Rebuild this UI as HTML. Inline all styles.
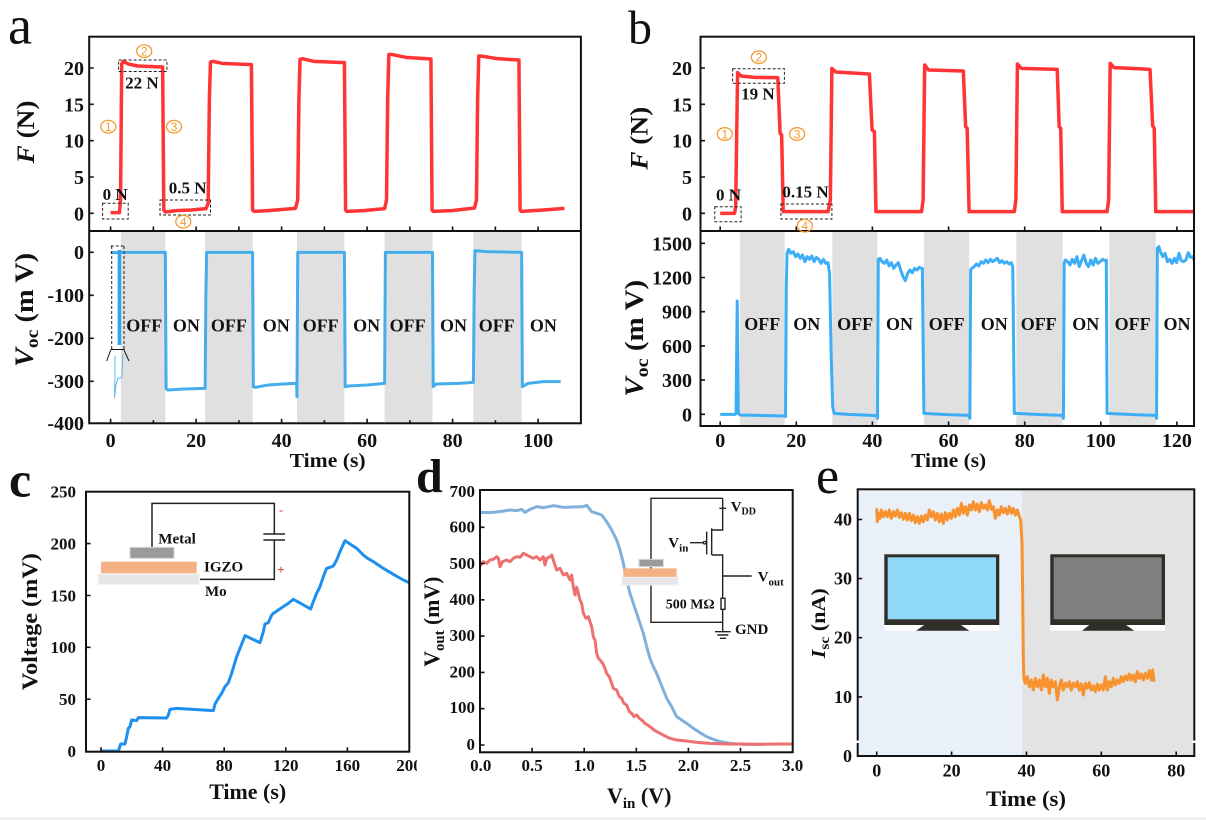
<!DOCTYPE html>
<html><head><meta charset="utf-8">
<style>
html,body{margin:0;padding:0;background:#fff;}
svg{display:block;}
text{font-family:"Liberation Serif",serif;font-weight:bold;fill:#111;}
.lt{font-weight:normal;}
.dl{fill:none;stroke:#222;stroke-width:1;stroke-dasharray:3 2;}
.ax{fill:none;stroke:#111;stroke-width:2;}
.tk{fill:none;stroke:#111;stroke-width:1.6;}
.cn{fill:none;stroke:#F29A2E;stroke-width:1.3;}
.cnt{font-weight:normal;fill:#F29A2E;font-size:12px;font-family:"Liberation Sans",sans-serif;}
</style></head><body>
<svg width="1206" height="820" viewBox="0 0 1206 820" xmlns="http://www.w3.org/2000/svg">
<rect x="0" y="0" width="1206" height="820" fill="#fff"/>

<!-- ================= PANEL A ================= -->
<text class="lt" x="8" y="43.5" font-size="54">a</text>
<g fill="#E0E0E0">
<rect x="120.9" y="231" width="44.4" height="192.3"/>
<rect x="205.1" y="231" width="47.5" height="192.3"/>
<rect x="297" y="231" width="47.4" height="192.3"/>
<rect x="384.6" y="231" width="47.9" height="192.3"/>
<rect x="473.4" y="231" width="48.2" height="192.3"/>
</g>
<g transform="matrix(0.3827,0,0,0.33333,0,0)">
<path vector-effect="non-scaling-stroke" fill="none" stroke="#FF3535" stroke-width="3.5" stroke-linejoin="round"
d="M289,638 L312,638 L315,600 L318,192 L322,184 L335,192 L360,198 L425,201 L428,630 L432,636 L460,632 L500,630 L538,626 L544,610 L547,300 L550,186 L556,184 L580,190 L657,194 L660,630 L664,634 L700,632 L772,625 L778,600 L781,300 L784,178 L790,176 L820,184 L900,188 L903,630 L906,634 L950,632 L1005,626 L1010,600 L1013,300 L1016,164 L1022,163 L1060,172 L1126,177 L1129,630 L1132,634 L1180,632 L1240,624 L1245,600 L1248,300 L1251,168 L1256,168 L1300,176 L1356,180 L1359,630 L1362,634 L1420,630 L1475,625"/>
</g>
<g transform="matrix(0.3827,0,0,0.33333,0,220)">
<path vector-effect="non-scaling-stroke" fill="none" stroke="#45AEEA" stroke-width="3" stroke-linejoin="round"
d="M289,98 L312,98 M316,97 L432,97 L434,505 L438,510 L480,507 L536,505 L538,220 L540,97 L660,97 L662,500 L668,502 L700,495 L740,492 L775,490 L776,530 L778,97 L900,97 L902,500 L910,498 L960,495 L1005,490 L1007,97 L1130,97 L1132,500 L1140,492 L1200,490 L1237,487 L1239,215 L1241,92 L1270,95 L1363,97 L1365,500 L1380,490 L1420,485 L1465,485"/>
<path vector-effect="non-scaling-stroke" fill="none" stroke="#2FA3EE" stroke-width="3.5" d="M312,90 L312,375"/>
</g>
<path class="dl" d="M110.7,246 H124 M111.7,246 V349 M124,246 V349"/>
<path fill="none" stroke="#111" stroke-width="1" d="M110.7,349.5 H124.5 M110.7,350 L106.7,361 M124,350 L129,361"/>
<path fill="none" stroke="#5BB8EE" stroke-width="1" d="M115,356 L115,372 L114.5,398 L116,385 L118,378 L121,378 L122,376 L123,354"/>
<rect class="ax" x="89.2" y="36.7" width="491.7" height="386.6"/>
<line class="ax" x1="89.2" y1="231" x2="580.9" y2="231"/>
<path class="tk" d="M89.2,213.3h4.5 M89.2,177h4.5 M89.2,140.7h4.5 M89.2,104.3h4.5 M89.2,68h4.5
M110.6,231v-4.5 M153.4,231v-4.5 M196.1,231v-4.5 M238.9,231v-4.5 M281.6,231v-4.5 M324.4,231v-4.5 M367.1,231v-4.5 M409.9,231v-4.5 M452.6,231v-4.5 M495.4,231v-4.5 M538.1,231v-4.5
M89.2,252.3h4.5 M89.2,295.3h4.5 M89.2,338.3h4.5 M89.2,381.3h4.5
M110.6,423.3v-4.5 M153.4,423.3v-3 M196.1,423.3v-4.5 M238.9,423.3v-3 M281.6,423.3v-4.5 M324.4,423.3v-3 M367.1,423.3v-4.5 M409.9,423.3v-3 M452.6,423.3v-4.5 M495.4,423.3v-3 M538.1,423.3v-4.5"/>
<g font-size="20" text-anchor="end">
<text x="84" y="75">20</text><text x="84" y="111.3">15</text><text x="84" y="147.7">10</text><text x="84" y="184">5</text><text x="84" y="220.3">0</text>
<text x="84" y="259">0</text><text x="84" y="302">-100</text><text x="84" y="345">-200</text><text x="84" y="388">-300</text><text x="84" y="430">-400</text>
</g>
<g font-size="20" text-anchor="middle">
<text x="110.6" y="447">0</text><text x="196.1" y="447">20</text><text x="281.6" y="447">40</text><text x="367.1" y="447">60</text><text x="452.6" y="447">80</text><text x="538.1" y="447">100</text>
<text x="327.6" y="467" textLength="76" lengthAdjust="spacingAndGlyphs">Time (s)</text>
</g>
<text transform="translate(34,132) rotate(-90)" font-size="25" text-anchor="middle" textLength="63" lengthAdjust="spacingAndGlyphs"><tspan font-style="italic">F</tspan> (N)</text>
<text transform="translate(33,310) rotate(-90)" font-size="26" text-anchor="middle" textLength="114" lengthAdjust="spacingAndGlyphs"><tspan font-style="italic">V</tspan><tspan font-size="18" dy="5">oc</tspan><tspan dy="-5"> (m V)</tspan></text>
<g font-size="18" text-anchor="middle">
<text x="144.3" y="331.7">OFF</text><text x="186.4" y="331.7">ON</text>
<text x="228.9" y="331.7">OFF</text><text x="276.3" y="331.7">ON</text>
<text x="320.7" y="331.7">OFF</text><text x="366.6" y="331.7">ON</text>
<text x="407.6" y="331.7">OFF</text><text x="453.5" y="331.7">ON</text>
<text x="496.7" y="331.7">OFF</text><text x="543.4" y="331.7">ON</text>
</g>
<rect class="dl" x="118.6" y="60" width="48.3" height="11.5"/>
<rect class="dl" x="102.6" y="203.3" width="25.6" height="15.7"/>
<rect class="dl" x="160" y="200" width="50.5" height="15"/>
<g font-size="17">
<text x="125.1" y="88.5">22 N</text>
<text x="102.6" y="200">0 N</text>
<text x="168.8" y="193.3">0.5 N</text>
</g>
<g text-anchor="middle">
<ellipse class="cn" cx="108.3" cy="126.7" rx="7.5" ry="6.3"/><text class="cnt" x="108.3" y="131">1</text>
<ellipse class="cn" cx="144.2" cy="51.2" rx="7.5" ry="6.3"/><text class="cnt" x="144.2" y="55.5">2</text>
<ellipse class="cn" cx="174" cy="126.7" rx="7.5" ry="6.3"/><text class="cnt" x="174" y="131">3</text>
<ellipse class="cn" cx="183.3" cy="221.7" rx="7.5" ry="6.3"/><text class="cnt" x="183.3" y="226">4</text>
</g>

<!-- ================= PANEL B ================= -->
<text class="lt" x="628" y="43.3" font-size="48">b</text>
<g fill="#E0E0E0">
<rect x="739.9" y="231" width="44.8" height="195"/>
<rect x="832.3" y="231" width="45.2" height="195"/>
<rect x="923.9" y="231" width="45.2" height="195"/>
<rect x="1016.3" y="231" width="46.3" height="195"/>
<rect x="1109.4" y="231" width="46.4" height="195"/>
</g>
<g transform="matrix(0.3865,0,0,0.33333,600,0)">
<path vector-effect="non-scaling-stroke" fill="none" stroke="#FF3535" stroke-width="3.5" stroke-linejoin="round"
d="M311,640 L348,640 L351,620 L356,218 L365,228 L400,232 L460,233 L466,400 L470,405 L474,635 L590,635 L596,600 L600,205 L610,216 L697,222 L704,390 L710,395 L714,635 L832,635 L836,600 L840,195 L850,210 L940,213 L946,380 L950,385 L955,635 L1072,635 L1076,600 L1080,192 L1090,205 L1183,208 L1188,380 L1192,385 L1196,635 L1312,635 L1316,600 L1320,190 L1330,203 L1423,208 L1430,378 L1434,385 L1438,635 L1537,635"/>
</g>
<g transform="matrix(0.3865,0,0,0.33333,600,220)">
<path vector-effect="non-scaling-stroke" fill="none" stroke="#3DAEF5" stroke-width="3" stroke-linejoin="round"
d="M311,583 L350,583 L352,580 L355,243 L358,580 L362,585 L478,588 L480,590 L482,200 L484,100 L488,88 L494,100 L500,95 L506,110 L512,102 L518,115 L524,105 L530,125 L536,110 L542,118 L548,108 L554,125 L560,112 L566,118 L572,130 L578,118 L584,130 L590,128 L594,160 L598,400 L602,560 L606,580 L640,583 L680,585 L716,587 L718,595 L720,118 L724,115 L730,125 L736,130 L742,120 L748,138 L754,128 L760,145 L766,135 L772,128 L778,150 L784,170 L790,182 L796,160 L802,150 L808,158 L814,145 L820,150 L826,142 L832,145 L834,145 L838,580 L900,584 L955,586 L957,595 L959,150 L962,145 L968,140 L974,132 L980,138 L986,125 L992,130 L998,120 L1004,128 L1010,118 L1016,125 L1022,120 L1028,115 L1034,128 L1040,122 L1046,130 L1052,125 L1058,132 L1064,128 L1068,140 L1072,580 L1140,584 L1197,586 L1199,595 L1201,130 L1204,120 L1210,125 L1216,135 L1222,118 L1228,130 L1234,110 L1240,140 L1246,122 L1252,105 L1258,130 L1264,140 L1270,120 L1276,135 L1282,115 L1288,130 L1294,125 L1300,118 L1306,122 L1310,120 L1312,580 L1380,584 L1438,586 L1440,595 L1442,85 L1446,80 L1450,95 L1456,110 L1462,100 L1468,125 L1474,118 L1480,130 L1486,115 L1492,128 L1498,100 L1504,122 L1510,125 L1516,120 L1522,98 L1528,112 L1534,110 L1537,120"/>
</g>
<rect class="ax" x="700.5" y="36.7" width="493.5" height="389.3"/>
<line class="ax" x1="700.5" y1="231" x2="1194" y2="231"/>
<path class="tk" d="M700.5,213.3h4.5 M700.5,177h4.5 M700.5,140.7h4.5 M700.5,104.3h4.5 M700.5,68h4.5
M720.2,231v-4.5 M796.3,231v-4.5 M872.4,231v-4.5 M948.6,231v-4.5 M1024.7,231v-4.5 M1100.8,231v-4.5 M1176.9,231v-4.5
M700.5,414.3h4.5 M700.5,380.1h4.5 M700.5,345.9h4.5 M700.5,311.7h4.5 M700.5,277.5h4.5 M700.5,243.3h4.5
M720.2,426v-4.5 M796.3,426v-4.5 M872.4,426v-4.5 M948.6,426v-4.5 M1024.7,426v-4.5 M1100.8,426v-4.5 M1176.9,426v-4.5"/>
<g font-size="20" text-anchor="end">
<text x="692" y="75">20</text><text x="692" y="111.3">15</text><text x="692" y="147.7">10</text><text x="692" y="184">5</text><text x="692" y="220.3">0</text>
<text x="692" y="250.3">1500</text><text x="692" y="284.5">1200</text><text x="692" y="318.7">900</text><text x="692" y="352.9">600</text><text x="692" y="387.1">300</text><text x="692" y="421.3">0</text>
</g>
<g font-size="20" text-anchor="middle">
<text x="720.2" y="447">0</text><text x="796.3" y="447">20</text><text x="872.4" y="447">40</text><text x="948.6" y="447">60</text><text x="1024.7" y="447">80</text><text x="1100.8" y="447">100</text><text x="1176.9" y="447">120</text>
<text x="948.7" y="467" textLength="75" lengthAdjust="spacingAndGlyphs">Time (s)</text>
</g>
<text transform="translate(647.5,138.3) rotate(-90)" font-size="25" text-anchor="middle" textLength="63" lengthAdjust="spacingAndGlyphs"><tspan font-style="italic">F</tspan> (N)</text>
<text transform="translate(643,338.3) rotate(-90)" font-size="26" text-anchor="middle" textLength="117" lengthAdjust="spacingAndGlyphs"><tspan font-style="italic">V</tspan><tspan font-size="18" dy="5">oc</tspan><tspan dy="-5"> (m V)</tspan></text>
<g font-size="18" text-anchor="middle">
<text x="762.3" y="330">OFF</text><text x="806.8" y="330">ON</text>
<text x="855.1" y="330">OFF</text><text x="899.5" y="330">ON</text>
<text x="946.7" y="330">OFF</text><text x="994.2" y="330">ON</text>
<text x="1038.7" y="330">OFF</text><text x="1085.8" y="330">ON</text>
<text x="1132.6" y="330">OFF</text><text x="1177" y="330">ON</text>
</g>
<rect class="dl" x="732.6" y="68.7" width="51.8" height="14.6"/>
<rect class="dl" x="714.8" y="206.7" width="26.3" height="15"/>
<rect class="dl" x="780.9" y="204" width="51" height="15"/>
<g font-size="17">
<text x="741.1" y="99.3">19 N</text>
<text x="716" y="200.7">0 N</text>
<text x="782.4" y="197.7">0.15 N</text>
</g>
<g text-anchor="middle">
<ellipse class="cn" cx="724.8" cy="134" rx="7.5" ry="6.3"/><text class="cnt" x="724.8" y="138.3">1</text>
<ellipse class="cn" cx="758.9" cy="57.3" rx="7.5" ry="6.3"/><text class="cnt" x="758.9" y="61.6">2</text>
<ellipse class="cn" cx="797.1" cy="134" rx="7.5" ry="6.3"/><text class="cnt" x="797.1" y="138.3">3</text>
<ellipse class="cn" cx="804.8" cy="225.7" rx="7.5" ry="6.3"/><text class="cnt" x="804.8" y="230">4</text>
</g>

<!-- ================= PANEL C ================= -->
<defs><clipPath id="cclip"><rect x="0" y="455" width="417" height="365"/></clipPath></defs>
<g clip-path="url(#cclip)">
<text x="9" y="496.7" font-size="50">c</text>
<g transform="matrix(0.33333,0,0,0.33333,0,460)">
<path vector-effect="non-scaling-stroke" fill="none" stroke="#222" stroke-width="1.5" d="M456,262 L456,130 L823,130 L823,222 M790,222 L855,222 M790,240 L855,240 M823,240 L823,358 L600,358"/>
<rect x="390" y="262" width="132" height="33" fill="#9B9B9B" stroke="#D8D8D8" stroke-width="3"/>
<rect x="303" y="305" width="287" height="35" fill="#F4B183"/>
<rect x="295" y="343" width="303" height="30" fill="#E6E6E6" stroke="#F2F2F2" stroke-width="3"/>
<path vector-effect="non-scaling-stroke" fill="none" stroke="#1E8FEE" stroke-width="3" stroke-linejoin="round"
d="M303,873 L355,873 L362,852 L375,852 L380,830 L385,805 L390,800 L395,780 L410,782 L415,773 L500,774 L505,765 L510,748 L530,745 L640,752 L645,732 L655,715 L665,700 L675,680 L685,668 L695,640 L710,590 L722,560 L735,527 L780,548 L790,515 L795,492 L805,488 L815,465 L820,460 L835,450 L850,440 L865,430 L880,418 L932,447 L940,425 L950,400 L960,380 L970,350 L980,325 L990,322 L1000,318 L1010,300 L1020,275 L1035,242 L1050,252 L1070,265 L1090,285 L1100,293 L1120,305 L1150,325 L1180,343 L1210,360 L1228,368"/>
</g>
<g font-size="15">
<text x="158.3" y="543.3">Metal</text>
<text x="204" y="571.7">IGZO</text>
<text x="205" y="596">Mo</text>
</g>
<text x="281" y="514" font-size="12" style="fill:#E03030" text-anchor="middle">-</text>
<text x="281" y="574" font-size="13" style="fill:#E03030" text-anchor="middle">+</text>
<rect class="ax" x="86" y="491.7" width="323.3" height="260"/>
<path class="tk" d="M86,699.2h4.5 M86,647.3h4.5 M86,595.5h4.5 M86,543.6h4.5
M101,751.7v-4.5 M162.6,751.7v-4.5 M224.2,751.7v-4.5 M285.8,751.7v-4.5 M347.4,751.7v-4.5"/>
<g font-size="17" text-anchor="end">
<text x="76" y="497.5">250</text><text x="76" y="549.5">200</text><text x="76" y="601.3">150</text><text x="76" y="653.2">100</text><text x="76" y="705">50</text><text x="76" y="756.8">0</text>
</g>
<g font-size="17" text-anchor="middle">
<text x="101" y="771">0</text><text x="162.6" y="771">40</text><text x="224.2" y="771">80</text><text x="285.8" y="771">120</text><text x="347.4" y="771">160</text><text x="409" y="771">200</text>
</g>
<text x="247.7" y="799" font-size="22" text-anchor="middle" textLength="77" lengthAdjust="spacingAndGlyphs">Time (s)</text>
<text transform="translate(37,621.7) rotate(-90)" font-size="22" text-anchor="middle" textLength="137" lengthAdjust="spacingAndGlyphs">Voltage (mV)</text>
</g>

<!-- ================= PANEL D ================= -->
<text x="416" y="492" font-size="48">d</text>
<g transform="matrix(0.33333,0,0,0.33333,410,460)">
<path vector-effect="non-scaling-stroke" fill="none" stroke="#80B0DC" stroke-width="3" stroke-linejoin="round"
d="M210,157 L240,158 L270,155 L300,150 L320,152 L335,148 L345,157 L360,148 L380,140 L400,143 L430,137 L460,142 L490,141 L520,140 L530,136 L545,155 L560,160 L575,165 L590,185 L605,210 L620,240 L630,270 L640,310 L650,360 L660,400 L670,430 L680,460 L690,490 L700,520 L710,560 L720,595 L730,620 L740,640 L750,665 L760,690 L770,715 L785,740 L800,770 L815,780 L830,790 L850,805 L870,818 L890,830 L910,838 L930,845 L960,850 L1000,853 L1060,853"/>
<path vector-effect="non-scaling-stroke" fill="none" stroke="#EE7070" stroke-width="3" stroke-linejoin="round"
d="M210,318 L220,305 L230,310 L240,300 L250,298 L260,290 L265,295 L270,320 L278,305 L290,300 L300,305 L310,295 L320,290 L330,292 L340,280 L350,285 L360,290 L370,295 L380,290 L390,300 L400,290 L405,315 L410,295 L420,290 L425,285 L430,300 L440,330 L450,325 L460,345 L470,340 L480,360 L485,345 L490,380 L495,405 L500,382 L505,400 L510,420 L515,430 L520,460 L528,475 L535,470 L545,500 L550,530 L555,540 L560,580 L565,595 L570,600 L578,610 L585,625 L590,640 L598,650 L605,670 L610,685 L620,690 L628,710 L635,715 L642,730 L650,735 L658,755 L665,760 L672,770 L680,765 L688,775 L695,780 L705,790 L720,800 L735,812 L750,820 L765,828 L780,835 L800,840 L830,843 L860,847 L900,850 L950,852 L1000,852 L1050,853 L1100,852 L1148,852"/>
<path vector-effect="non-scaling-stroke" fill="none" stroke="#222" stroke-width="1.4"
d="M938,115 L723,115 L723,487 L938,487 M938,115 L938,210 L905,210 M905,205 L905,285 M890,215 L890,283 M840,248 L880,248 M905,285 L938,285 L938,415 M938,448 L938,515 M915,515 L962,515 M922,525 L955,525 M930,535 L948,535 M928,145 L948,145 M938,348 L1025,348"/>
<circle vector-effect="non-scaling-stroke" cx="884" cy="248" r="4" fill="#fff" stroke="#222" stroke-width="1.2"/>
<rect vector-effect="non-scaling-stroke" x="933" y="415" width="12" height="33" fill="#fff" stroke="#222" stroke-width="1.4"/>
<rect x="687" y="298" width="73" height="22" fill="#9B9B9B" stroke="#D8D8D8" stroke-width="3"/>
<rect x="640" y="325" width="160" height="27" fill="#F4B183"/>
<rect x="635" y="352" width="170" height="23" fill="#E6E6E6" stroke="#F2F2F2" stroke-width="3"/>
</g>
<g font-size="15">
<text x="730.7" y="511.7">V<tspan font-size="10" dy="3">DD</tspan></text>
<text x="668.3" y="547.3">V<tspan font-size="11" dy="4">in</tspan></text>
<text x="757.7" y="581.7">V<tspan font-size="11" dy="4">out</tspan></text>
<text x="665.7" y="608.3" font-size="14">500 MΩ</text>
<text x="735" y="634">GND</text>
</g>
<rect class="ax" x="480" y="490" width="312.7" height="262.3"/>
<path class="tk" d="M480,708.7h4.5 M480,672.4h4.5 M480,636.1h4.5 M480,599.8h4.5 M480,563.5h4.5 M480,527.3h4.5 M480,745h4.5
M532.1,752.3v-4.5 M584.2,752.3v-4.5 M636.3,752.3v-4.5 M688.4,752.3v-4.5 M740.5,752.3v-4.5"/>
<g font-size="17" text-anchor="end">
<text x="475" y="496.8">700</text><text x="475" y="532.5">600</text><text x="475" y="568.8">500</text><text x="475" y="604.8">400</text><text x="475" y="640.8">300</text><text x="475" y="677.5">200</text><text x="475" y="713.1">100</text><text x="475" y="750.1">0</text>
</g>
<g font-size="17" text-anchor="middle">
<text x="480.7" y="771">0.0</text><text x="532.1" y="771">0.5</text><text x="584.2" y="771">1.0</text><text x="636.3" y="771">1.5</text><text x="688.4" y="771">2.0</text><text x="740.5" y="771">2.5</text><text x="792.6" y="771">3.0</text>
</g>
<text x="607" y="803" font-size="22">V<tspan font-size="15" dy="5">in</tspan><tspan dy="-5"> (V)</tspan></text>
<text transform="translate(439,621.7) rotate(-90)" font-size="22" text-anchor="middle" textLength="90" lengthAdjust="spacingAndGlyphs">V<tspan font-size="15" dy="5">out</tspan><tspan dy="-5"> (mV)</tspan></text>

<!-- ================= PANEL E ================= -->
<text class="lt" x="816" y="493" font-size="52">e</text>
<rect x="857.7" y="489.3" width="164.3" height="266.7" fill="#E9F0F8"/>
<rect x="1022" y="489.3" width="172.3" height="266.7" fill="#E3E3E3"/>
<rect x="884.3" y="625" width="115" height="5.7" fill="#fff"/>
<rect x="884.3" y="554.3" width="115" height="70.7" fill="#2F2F27"/>
<rect x="887.7" y="557.3" width="108.3" height="62" fill="#8FD8F7"/>
<polygon points="924.3,625 961,625 969.3,630.7 916,630.7" fill="#2F2F27"/>
<rect x="1050.3" y="625" width="114.7" height="5.7" fill="#fff"/>
<rect x="1050.3" y="554.3" width="114.7" height="70.7" fill="#2F2F27"/>
<rect x="1053.7" y="557.3" width="108" height="62" fill="#808080"/>
<polygon points="1089.3,625 1126,625 1134.3,630.7 1082,630.7" fill="#2F2F27"/>
<g transform="matrix(0.33333,0,0,0.33333,806,460)">
<path vector-effect="non-scaling-stroke" fill="none" stroke="#F7922E" stroke-width="3" stroke-linejoin="round"
d="M212,145 L214,185 L218,160 L222,175 L226,150 L232,170 L238,155 L244,170 L250,150 L256,175 L262,155 L268,168 L274,150 L280,172 L286,158 L292,178 L298,160 L304,180 L310,160 L316,182 L322,165 L328,188 L334,170 L340,190 L346,168 L352,185 L358,165 L364,180 L370,150 L376,170 L382,155 L388,180 L394,160 L400,185 L406,162 L412,190 L418,158 L424,180 L430,160 L436,175 L442,150 L448,170 L454,145 L460,165 L466,130 L472,160 L478,140 L484,165 L490,135 L496,150 L502,125 L508,150 L514,132 L520,155 L526,128 L532,145 L538,135 L544,150 L550,122 L556,148 L562,140 L568,175 L574,150 L580,165 L586,140 L592,158 L598,145 L604,162 L610,140 L616,160 L622,145 L628,165 L634,150 L640,170 L644,180 L648,250 L650,400 L652,600 L654,655 L658,670 L664,650 L670,680 L676,660 L682,690 L688,655 L694,680 L700,660 L706,690 L712,645 L718,680 L724,655 L730,700 L736,660 L742,680 L748,665 L754,720 L760,680 L766,660 L772,690 L778,670 L784,680 L790,665 L796,690 L802,670 L808,680 L814,665 L820,690 L826,672 L832,705 L838,670 L844,685 L850,668 L856,690 L862,678 L868,695 L874,672 L880,690 L886,675 L892,690 L898,650 L904,690 L910,665 L916,680 L922,655 L928,675 L934,660 L940,670 L946,650 L952,665 L958,648 L964,660 L970,642 L976,660 L982,645 L988,665 L994,635 L1000,655 L1006,642 L1012,660 L1018,640 L1024,655 L1030,632 L1036,660 L1040,630 L1044,665"/>
</g>
<rect class="ax" x="857.7" y="489.3" width="336.6" height="266.7"/>
<rect x="855" y="740.5" width="5" height="2.5" fill="#fff"/>
<rect x="1192" y="740.5" width="5" height="2.5" fill="#fff"/>
<path class="tk" d="M857.7,696.9h4.5 M857.7,637.7h4.5 M857.7,578.6h4.5 M857.7,519.5h4.5
M876.7,756v-4.5 M951.6,756v-4.5 M1026.5,756v-4.5 M1101.3,756v-4.5 M1176.2,756v-4.5"/>
<g font-size="18" text-anchor="end">
<text x="852" y="525.5">40</text><text x="852" y="584.6">30</text><text x="852" y="643.7">20</text><text x="852" y="702.9">10</text><text x="852" y="762">0</text>
</g>
<g font-size="18" text-anchor="middle">
<text x="876.7" y="776.7">0</text><text x="951.6" y="776.7">20</text><text x="1026.5" y="776.7">40</text><text x="1101.3" y="776.7">60</text><text x="1176.2" y="776.7">80</text>
</g>
<text x="1026" y="806" font-size="22.5" text-anchor="middle" textLength="80" lengthAdjust="spacingAndGlyphs">Time (s)</text>
<text transform="translate(825,623.3) rotate(-90)" font-size="20" text-anchor="middle" textLength="70" lengthAdjust="spacingAndGlyphs"><tspan font-style="italic">I</tspan><tspan font-size="14" dy="4">sc</tspan><tspan dy="-4"> (nA)</tspan></text>

<rect x="0" y="817" width="1206" height="3" fill="#EFEFEF"/>
</svg>
</body></html>
